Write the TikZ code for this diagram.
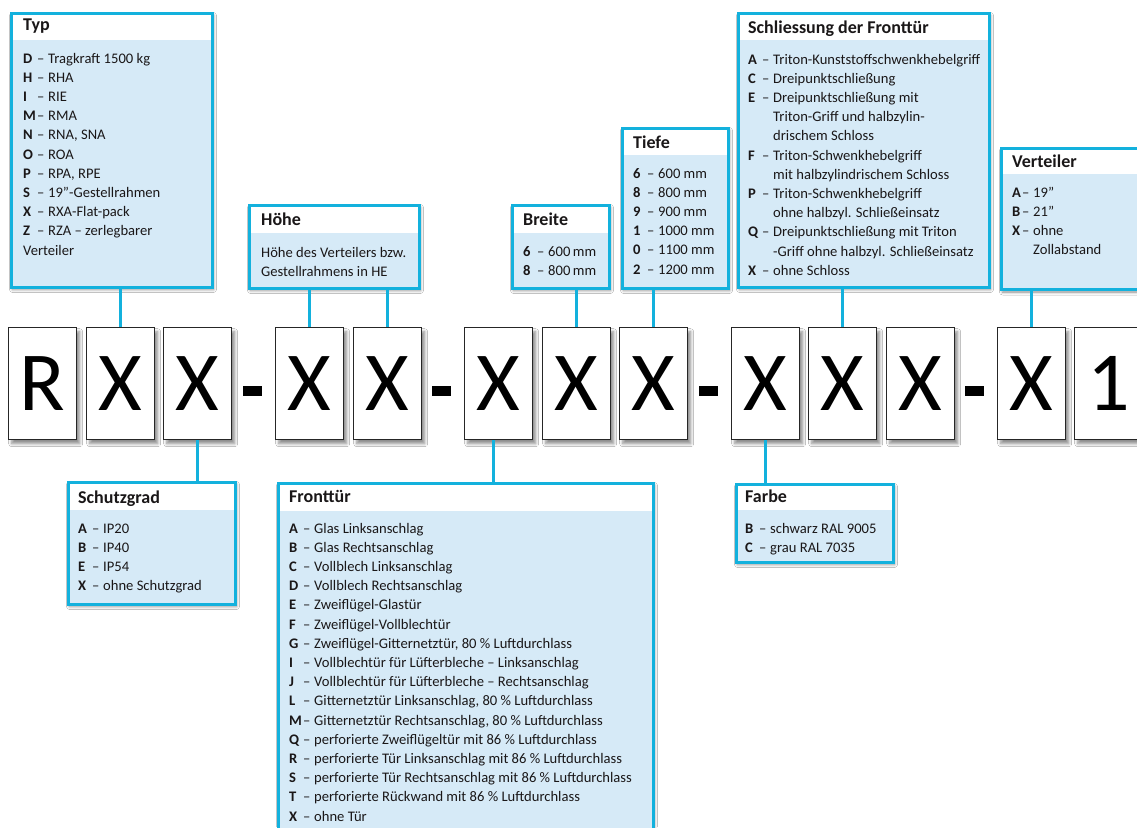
\documentclass[tikz,border=0pt]{standalone}
\usepackage{fontspec}
\setmainfont{Carlito}
\usetikzlibrary{shadows.blur}
\definecolor{cy}{HTML}{13B1DD}
\definecolor{lb}{HTML}{D6EAF7}
\definecolor{ink}{HTML}{1A1718}
\newcommand\ent[2]{\makebox[14pt][l]{\textbf{#1}}\makebox[11pt][l]{–}#2}
\newcommand\entv[2]{\makebox[10pt][l]{\textbf{#1}}\makebox[11pt][l]{–}#2}
\tikzset{
 conn/.style={draw=cy, line width=3pt},
 shd/.style={blur shadow={shadow xshift=3pt, shadow yshift=-4pt, shadow blur radius=3pt, shadow opacity=45}},
 charbox/.style={draw=black!85, line width=1.4pt, fill=white, minimum width=68pt, minimum height=112pt,
   anchor=north west, inner sep=0pt, text=black, font=\fontsize{84}{84}\selectfont, shd},
 dashbar/.style={fill=black, minimum width=19pt, minimum height=10pt, inner sep=0pt, anchor=north west},
 callout/.style={draw=cy, line width=3pt, inner sep=0pt, anchor=north west},
 ttl/.style={anchor=base west, inner sep=0pt, text=ink, font=\fontsize{18}{20}\bfseries\selectfont},
 body/.style={anchor=base west, inner sep=0pt, text=ink, font=\fontsize{14.6}{19.2}\selectfont},
}
\newcommand\callbox[6]{%
  \fill[lb, shd] (#2,#3) rectangle (#4,#5);
  \fill[white] (#2,#3) rectangle (#4,#6);
  \node[callout, minimum width={#4pt-#2pt}, minimum height={#5pt-#3pt}] (#1) at (#2,#3) {};
}
\begin{document}
\begin{tikzpicture}[x=1pt,y=-1pt]
\useasboundingbox[fill=white] (0,0) rectangle (1137,827);

% character boxes
\node[charbox] (b1) at (8,327) {R};
\node[charbox] (b2) at (86,327) {X};
\node[charbox] (b3) at (163,327) {X};
\node[dashbar] (d1) at (243,386) {};
\node[charbox] (b4) at (275,327) {X};
\node[charbox] (b5) at (353,327) {X};
\node[dashbar] (d2) at (432,386) {};
\node[charbox] (b6) at (464,327) {X};
\node[charbox] (b7) at (542,327) {X};
\node[charbox] (b8) at (619,327) {X};
\node[dashbar] (d3) at (699,386) {};
\node[charbox] (b9) at (731,327) {X};
\node[charbox] (b10) at (808,327) {X};
\node[charbox] (b11) at (886,327) {X};
\node[dashbar] (d4) at (965,386) {};
\node[charbox] (b12) at (997,327) {X};
\node[charbox] (b13) at (1074,327) {1};

% callout boxes
\callbox{typ}{9.5}{11.5}{210.5}{285.5}{40}
\callbox{hoehe}{247.5}{203.5}{417.5}{286.5}{233}
\callbox{breite}{510.5}{203.5}{607.5}{286.5}{233}
\callbox{tiefe}{620.5}{126.5}{726.5}{286.5}{155}
\callbox{schl}{736.5}{11.5}{987.5}{285.5}{40}
\callbox{vert}{999.5}{146.5}{1150}{288}{174}
\callbox{schutz}{66.5}{480.5}{233.5}{602.5}{510}
\callbox{front}{276.5}{481.5}{651.5}{840}{511}
\callbox{farbe}{734.5}{482.5}{891.5}{560.5}{510}

% connectors
\draw[conn] (b2.north) -- (b2.north |- typ.south);
\draw[conn] (b4.north) -- (b4.north |- hoehe.south);
\draw[conn] (b5.north) -- (b5.north |- hoehe.south);
\draw[conn] (b7.north) -- (b7.north |- breite.south);
\draw[conn] (b8.north) -- (b8.north |- tiefe.south);
\draw[conn] (b10.north) -- (b10.north |- schl.south);
\draw[conn] (b12.north) -- (b12.north |- vert.south);
\draw[conn] (b3.south) -- (b3.south |- schutz.north);
\draw[conn] ([xshift=-5pt]b6.south) -- ([xshift=-5pt]b6.south |- front.north);
\draw[conn] (b9.south) -- (b9.south |- farbe.north);

% texts
\node[ttl] (typT) at (23,30) {Typ};
\node[body] (typB) at (23,63) {\begin{tabular}[t]{@{}l@{}}
\ent{D}{Tragkraft 1500 kg}\\
\ent{H}{RHA}\\
\ent{I}{RIE}\\
\ent{M}{RMA}\\
\ent{N}{RNA, SNA}\\
\ent{O}{ROA}\\
\ent{P}{RPA, RPE}\\
\ent{S}{19”-Gestellrahmen}\\
\ent{X}{RXA-Flat-pack}\\
\ent{Z}{RZA – zerlegbarer}\\
Verteiler
\end{tabular}};

\node[ttl] (hoeT) at (261,225) {Höhe};
\node[body] (hoeB) at (261,257) {\begin{tabular}[t]{@{}l@{}}
Höhe des Verteilers bzw.\\
Gestellrahmens in HE
\end{tabular}};

\node[ttl] (brT) at (523,225) {Breite};
\node[body] (brB) at (523,256) {\begin{tabular}[t]{@{}l@{}}
\ent{6}{600\,mm}\\
\ent{8}{800\,mm}
\end{tabular}};

\node[ttl] (tiT) at (633,148) {Tiefe};
\node[body] (tiB) at (633,178) {\begin{tabular}[t]{@{}l@{}}
\ent{6}{600 mm}\\
\ent{8}{800 mm}\\
\ent{9}{900 mm}\\
\ent{1}{1000 mm}\\
\ent{0}{1100 mm}\\
\ent{2}{1200 mm}
\end{tabular}};

\node[ttl] (scT) at (748,33) {Schliessung der Fronttür};
\node[body] (scB) at (748,64) {\begin{tabular}[t]{@{}l@{}}
\ent{A}{Triton-Kunststoffschwenkhebelgriff}\\
\ent{C}{Dreipunktschließung}\\
\ent{E}{Dreipunktschließung mit}\\
\hspace*{25pt}Triton-Griff und halbzylin-\\
\hspace*{25pt}drischem Schloss\\
\ent{F}{Triton-Schwenkhebelgriff}\\
\hspace*{25pt}mit halbzylindrischem Schloss\\
\ent{P}{Triton-Schwenkhebelgriff}\\
\hspace*{25pt}ohne halbzyl. Schließeinsatz\\
\ent{Q}{Dreipunktschließung mit Triton}\\
\hspace*{25pt}-Griff ohne halbzyl. Schließeinsatz\\
\ent{X}{ohne Schloss}
\end{tabular}};

\node[ttl] (veT) at (1012,167) {Verteiler};
\node[body] (veB) at (1012,197) {\begin{tabular}[t]{@{}l@{}}
\entv{A}{19”}\\
\entv{B}{21”}\\
\entv{X}{ohne}\\
\hspace*{21pt}Zollabstand
\end{tabular}};

\node[ttl] (suT) at (78,503) {Schutzgrad};
\node[body] (suB) at (78,533) {\begin{tabular}[t]{@{}l@{}}
\ent{A}{IP20}\\
\ent{B}{IP40}\\
\ent{E}{IP54}\\
\ent{X}{ohne Schutzgrad}
\end{tabular}};

\node[ttl] (frT) at (289,502) {Fronttür};
\node[body] (frB) at (289,533) {\begin{tabular}[t]{@{}l@{}}
\ent{A}{Glas Linksanschlag}\\
\ent{B}{Glas Rechtsanschlag}\\
\ent{C}{Vollblech Linksanschlag}\\
\ent{D}{Vollblech Rechtsanschlag}\\
\ent{E}{Zweiflügel-Glastür}\\
\ent{F}{Zweiflügel-Vollblechtür}\\
\ent{G}{Zweiflügel-Gitternetztür, 80 \% Luftdurchlass}\\
\ent{I}{Vollblechtür für Lüfterbleche – Linksanschlag}\\
\ent{J}{Vollblechtür für Lüfterbleche – Rechtsanschlag}\\
\ent{L}{Gitternetztür Linksanschlag, 80 \% Luftdurchlass}\\
\ent{M}{Gitternetztür Rechtsanschlag, 80 \% Luftdurchlass}\\
\ent{Q}{perforierte Zweiflügeltür mit 86 \% Luftdurchlass}\\
\ent{R}{perforierte Tür Linksanschlag mit 86 \% Luftdurchlass}\\
\ent{S}{perforierte Tür Rechtsanschlag mit 86 \% Luftdurchlass}\\
\ent{T}{perforierte Rückwand mit 86 \% Luftdurchlass}\\
\ent{X}{ohne Tür}
\end{tabular}};

\node[ttl] (faT) at (745,502) {Farbe};
\node[body] (faB) at (745,533) {\begin{tabular}[t]{@{}l@{}}
\ent{B}{schwarz RAL 9005}\\
\ent{C}{grau RAL 7035}
\end{tabular}};
\end{tikzpicture}
\end{document}
